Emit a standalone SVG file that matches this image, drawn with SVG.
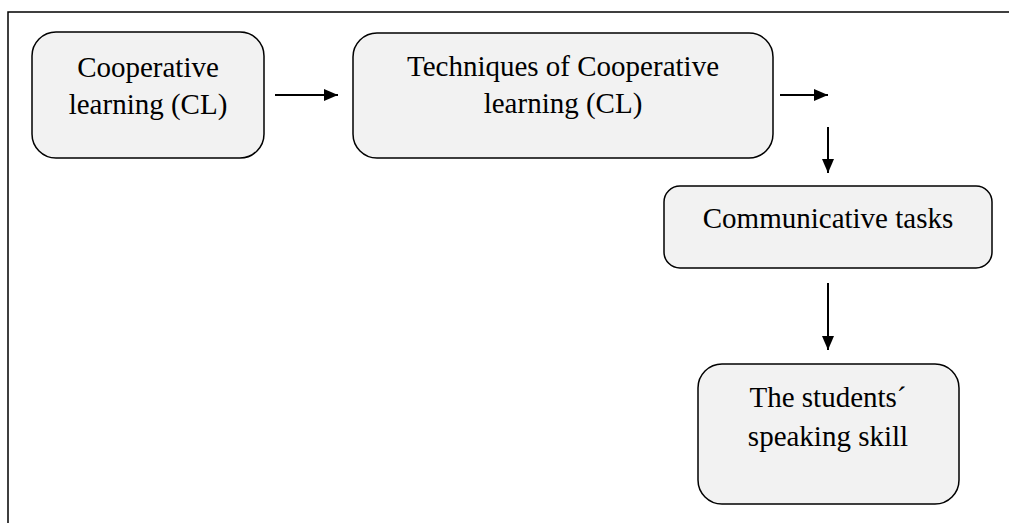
<svg xmlns="http://www.w3.org/2000/svg" width="1009" height="523" viewBox="0 0 1009 523">
<defs>
<style>
.box{fill:#f2f2f2;stroke:#000;stroke-width:1.5}
.t{font-family:"Liberation Serif","Times New Roman",serif;font-size:29px;fill:#000;text-anchor:middle}
.c{stroke:#000;stroke-width:2;fill:none;marker-end:url(#ah)}
</style>
<marker id="ah" viewBox="0 0 14 12" refX="14" refY="6" markerWidth="14" markerHeight="12" markerUnits="userSpaceOnUse" orient="auto">
<path d="M0,0 L14,6 L0,12 Z" fill="#000"/>
</marker>
</defs>
<rect width="1009" height="523" fill="#fff"/>
<path d="M8,523 L8,12 L1009,12" fill="none" stroke="#000" stroke-width="1.5"/>
<g id="n1">
<rect class="box" x="32" y="32" width="232" height="126" rx="24"/>
<text class="t" x="148" y="77">Cooperative</text>
<text class="t" x="148" y="114">learning (CL)</text>
</g>
<g id="n2">
<rect class="box" x="353" y="33" width="420" height="125" rx="24"/>
<text class="t" x="563" y="76">Techniques of Cooperative</text>
<text class="t" x="563" y="113">learning (CL)</text>
</g>
<g id="n3">
<rect class="box" x="664" y="186" width="328" height="82" rx="16"/>
<text class="t" x="828" y="228">Communicative tasks</text>
</g>
<g id="n4">
<rect class="box" x="698" y="364" width="261" height="140" rx="24"/>
<text class="t" x="828" y="407">The students´</text>
<text class="t" x="828" y="446">speaking skill</text>
</g>
<g id="connectors">
<line class="c" x1="275" y1="95" x2="338" y2="95"/>
<line class="c" x1="780" y1="95" x2="828" y2="95"/>
<line class="c" x1="828" y1="127" x2="828" y2="173"/>
<line class="c" x1="828" y1="283" x2="828" y2="350"/>
</g>
</svg>
